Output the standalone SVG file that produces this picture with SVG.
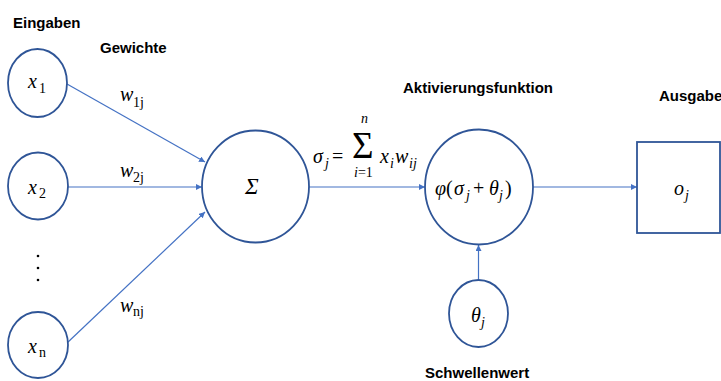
<svg xmlns="http://www.w3.org/2000/svg" width="721" height="381" viewBox="0 0 721 381">
<style>
.n{fill:#fff;stroke:#2F5597;stroke-width:1.8}
.c{stroke:#4472C4;stroke-width:1.2;fill:none}
.h{font-family:"Liberation Sans",Arial,sans-serif;font-weight:bold;font-size:15px;fill:#000}
.m{font-family:"Liberation Serif","Times New Roman",serif;font-style:italic;font-size:20px;fill:#000}
.s{font-family:"Liberation Serif","Times New Roman",serif;font-size:14px;fill:#000}
.si{font-family:"Liberation Serif","Times New Roman",serif;font-style:italic;font-size:14px;fill:#000}
.u{font-family:"Liberation Serif","Times New Roman",serif;font-size:20px;fill:#000}
</style>
<defs>
<marker id="a" viewBox="0 0 10 10" refX="10" refY="5" markerWidth="6" markerHeight="6" markerUnits="userSpaceOnUse" orient="auto">
<path d="M0,0 L10,5 L0,10 z" fill="#4472C4"/>
</marker>
</defs>
<g id="labels">
<text class="h" x="13" y="28">Eingaben</text>
<text class="h" x="100" y="53">Gewichte</text>
<text class="h" x="403" y="93">Aktivierungsfunktion</text>
<text class="h" x="659" y="101">Ausgabe</text>
<text class="h" x="425" y="378">Schwellenwert</text>
</g>
<g id="connectors">
<line class="c" x1="67" y1="84" x2="205" y2="162" marker-end="url(#a)"/>
<line class="c" x1="68" y1="187" x2="202" y2="187" marker-end="url(#a)"/>
<line class="c" x1="67" y1="343" x2="205" y2="212" marker-end="url(#a)"/>
<line class="c" x1="309" y1="187" x2="425" y2="187" marker-end="url(#a)"/>
<line class="c" x1="533" y1="187" x2="637" y2="187" marker-end="url(#a)"/>
<line class="c" x1="478.5" y1="280" x2="478.5" y2="245" marker-end="url(#a)"/>
<text class="m" x="120" y="101">w</text><text class="s" x="133" y="107">1j</text>
<text class="m" x="120" y="177">w</text><text class="s" x="133" y="182">2j</text>
<text class="m" x="120" y="312">w</text><text class="s" x="133" y="316">nj</text>
<text class="m" x="313" y="163">σ</text><text class="si" x="325" y="168">j</text>
<text class="u" x="332" y="163">=</text>
<text class="u" x="352" y="158" style="font-size:37px">Σ</text>
<text class="si" x="361" y="123">n</text>
<text class="s" x="354" y="177"><tspan font-style="italic">i</tspan>=1</text>
<text class="m" x="380" y="163">x</text><text class="si" x="390" y="168">i</text>
<text class="m" x="395" y="163">w</text><text class="si" x="409" y="168">ij</text>
</g>
<g id="x1">
<ellipse class="n" cx="37.5" cy="83" rx="29.5" ry="34"/>
<text class="m" x="28" y="88">x</text><text class="s" x="39" y="93">1</text>
</g>
<g id="x2">
<ellipse class="n" cx="38" cy="186" rx="30" ry="33.5"/>
<text class="m" x="28" y="194">x</text><text class="s" x="39" y="198">2</text>
</g>
<g id="dots">
<circle cx="38" cy="256" r="1.3" fill="#000"/>
<circle cx="38" cy="268" r="1.3" fill="#000"/>
<circle cx="38" cy="280" r="1.3" fill="#000"/>
</g>
<g id="xn">
<ellipse class="n" cx="38" cy="345" rx="30" ry="33"/>
<text class="m" x="28" y="353">x</text><text class="s" x="39" y="357">n</text>
</g>
<g id="sum">
<ellipse class="n" cx="255.5" cy="186.5" rx="53.5" ry="56"/>
<text class="m" x="245" y="194" style="font-size:23px">Σ</text>
</g>
<g id="activation">
<ellipse class="n" cx="479" cy="187" rx="54" ry="57.5"/>
<text class="m" x="435" y="195">φ</text>
<text class="u" x="446" y="195">(</text>
<text class="m" x="454" y="195">σ</text><text class="si" x="466" y="200">j</text>
<text class="u" x="473" y="195">+</text>
<text class="m" x="489" y="195">θ</text><text class="si" x="499" y="200">j</text>
<text class="u" x="505" y="195">)</text>
</g>
<g id="threshold">
<ellipse class="n" cx="478.5" cy="313.5" rx="29.5" ry="33.5"/>
<text class="m" x="471" y="322">θ</text><text class="si" x="481" y="327">j</text>
</g>
<g id="output">
<rect class="n" x="637" y="142" width="83" height="91"/>
<text class="m" x="674" y="195">o</text><text class="si" x="685" y="200">j</text>
</g>
</svg>
